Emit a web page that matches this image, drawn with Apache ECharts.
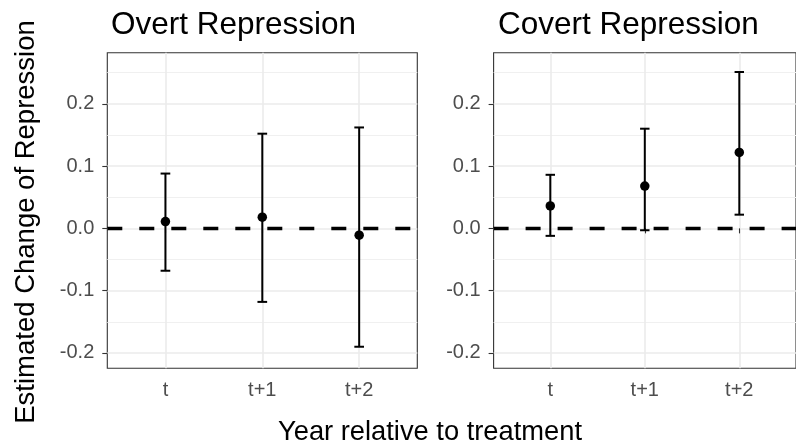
<!DOCTYPE html>
<html>
<head>
<meta charset="utf-8">
<script src="https://cdn.jsdelivr.net/npm/echarts@6/dist/echarts.min.js"></script>
<style>
html,body{margin:0;padding:0;background:#fff;}
#chart{width:796px;height:447px;}
</style>
</head>
<body>
<div id="chart"></div>
<script>
// ---- data ----
const categories = ['t', 't+1', 't+2'];
const panelTitles = ['Overt Repression', 'Covert Repression'];
const overtEst  = [0.011, 0.018, -0.011];
const overtLow  = [-0.068, -0.118, -0.190];
const overtHigh = [0.088, 0.152, 0.162];
const covertEst  = [0.036, 0.068, 0.122];
const covertLow  = [-0.012, -0.003, 0.022];
const covertHigh = [0.086, 0.160, 0.251];
const yTicks = [-0.2, -0.1, 0.0, 0.1, 0.2];
const yMinorTicks = [-0.15, -0.05, 0.05, 0.15, 0.25];
const yMin = -0.2246, yMax = 0.282;
const xPositions = [1, 2, 3];
const yTitle = 'Estimated Change of Repression';
const xTitle = 'Year relative to treatment';

const FONT = '"Liberation Sans", Arial, sans-serif';
const chart = echarts.init(document.getElementById('chart'), null, {renderer: 'canvas'});

const grids = [
  {left: 107.3, top: 52.7, width: 310, height: 315.6},
  {left: 493.6, top: 52.7, width: 310, height: 315.6}
];

const xAxes = [], yAxes = [], series = [];
const panels = [
  {est: overtEst, low: overtLow, high: overtHigh},
  {est: covertEst, low: covertLow, high: covertHigh}
];

panels.forEach((p, i) => {
  xAxes.push({
    type: 'value', gridIndex: i, min: 0.4, max: 3.6,
    axisLine: {show: false},
    axisTick: {show: true, length: 5, customValues: xPositions, lineStyle: {color: '#333', width: 1.1}},
    axisLabel: {
      customValues: xPositions, margin: 12,
      formatter: v => categories[Math.round(v) - 1],
      color: '#4d4d4d', fontSize: 20, fontFamily: FONT
    },
    splitLine: {show: true, lineStyle: {color: '#ebebeb', width: 1.6}}
  });
  // major y axis
  yAxes.push({
    type: 'value', gridIndex: i, min: yMin, max: yMax,
    axisLine: {show: false},
    axisTick: {show: true, length: 5, customValues: yTicks, lineStyle: {color: '#333', width: 1.1}},
    axisLabel: {
      customValues: yTicks, margin: 13,
      formatter: v => v.toFixed(1),
      color: '#4d4d4d', fontSize: 20, fontFamily: FONT
    },
    splitLine: {show: true, lineStyle: {color: '#ebebeb', width: 1.6}}
  });
  // minor y axis (grid lines only)
  yAxes.push({
    type: 'value', gridIndex: i, min: yMin, max: yMax,
    axisLine: {show: false},
    axisTick: {show: false, customValues: yMinorTicks},
    axisLabel: {show: false},
    splitLine: {show: true, lineStyle: {color: '#f0f0f0', width: 1}}
  });

  const yIdx = i * 2;
  // zero reference dashed line
  series.push({
    type: 'line', xAxisIndex: i, yAxisIndex: yIdx, data: [], z: 3,
    markLine: {
      silent: true, symbol: ['none', 'none'], animation: false,
      label: {show: false},
      lineStyle: {type: [15, 17], width: 3.4, color: '#000', opacity: 1},
      data: [{yAxis: 0}]
    }
  });
  // error bars
  series.push({
    type: 'custom', xAxisIndex: i, yAxisIndex: yIdx, z: 4,
    data: xPositions.map((x, k) => [x, p.low[k], p.high[k]]),
    encode: {x: 0, y: [1, 2]},
    renderItem: function (params, api) {
      const x = api.value(0), lo = api.value(1), hi = api.value(2);
      const a = api.coord([x, lo]), b = api.coord([x, hi]);
      const half = api.size([0.05, 0])[0];
      const st = {stroke: '#000', lineWidth: 2};
      return {type: 'group', children: [
        {type: 'line', shape: {x1: a[0], y1: a[1], x2: b[0], y2: b[1]}, style: st},
        {type: 'line', shape: {x1: a[0] - half, y1: a[1], x2: a[0] + half, y2: a[1]}, style: st},
        {type: 'line', shape: {x1: b[0] - half, y1: b[1], x2: b[0] + half, y2: b[1]}, style: st}
      ]};
    }
  });
  // point estimates
  series.push({
    type: 'scatter', xAxisIndex: i, yAxisIndex: yIdx, z: 5,
    symbol: 'circle', symbolSize: 9.5,
    itemStyle: {color: '#000', opacity: 1},
    data: xPositions.map((x, k) => [x, p.est[k]])
  });
});

chart.setOption({
  animation: false,
  backgroundColor: '#fff',
  grid: grids.map(g => Object.assign({show: true, borderColor: '#333', borderWidth: 1.1, backgroundColor: 'transparent'}, g)),
  title: [
    {text: panelTitles[0], left: 106, top: 4, textStyle: {fontSize: 31.5, fontWeight: 'normal', color: '#000', fontFamily: FONT}},
    {text: panelTitles[1], left: 493, top: 4, textStyle: {fontSize: 31.5, fontWeight: 'normal', color: '#000', fontFamily: FONT}}
  ],
  xAxis: xAxes,
  yAxis: yAxes,
  series: series,
  graphic: [
    {type: 'text', x: 26, y: 222, rotation: Math.PI / 2,
     style: {text: yTitle, fontSize: 27.5, fontFamily: FONT, fill: '#000', align: 'center', verticalAlign: 'middle'}},
    {type: 'text', x: 430, y: 432,
     style: {text: xTitle, fontSize: 27.3, fontFamily: FONT, fill: '#000', align: 'center', verticalAlign: 'middle'}}
  ]
});
</script>
</body>
</html>
